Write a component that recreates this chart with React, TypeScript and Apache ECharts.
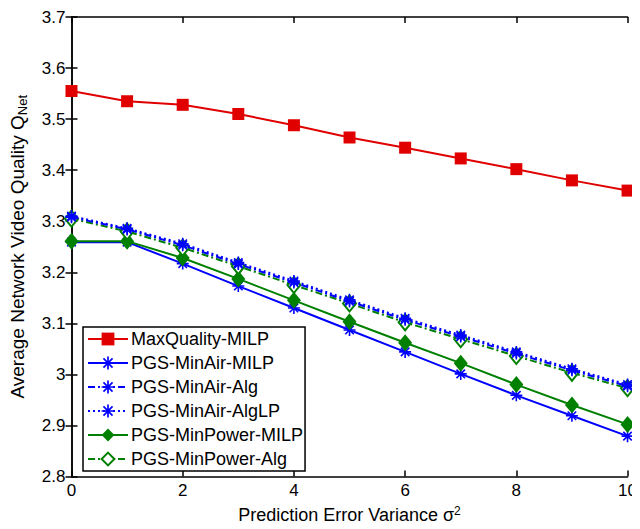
import React, { useEffect, useRef } from "react";
import * as echarts from "echarts";

const xValues = [0, 1, 2, 3, 4, 5, 6, 7, 8, 9, 10];
const maxQualityMILP = [3.555, 3.535, 3.528, 3.510, 3.488, 3.464, 3.444, 3.423, 3.402, 3.380, 3.360];
const minAirMILP = [3.259, 3.259, 3.217, 3.173, 3.130, 3.087, 3.044, 3.001, 2.959, 2.919, 2.879];
const minAirAlg = [3.308, 3.284, 3.253, 3.216, 3.180, 3.143, 3.107, 3.074, 3.041, 3.008, 2.977];
const minAirAlgLP = [3.310, 3.286, 3.256, 3.219, 3.183, 3.146, 3.110, 3.077, 3.044, 3.011, 2.980];
const minPowerMILP = [3.261, 3.261, 3.228, 3.187, 3.145, 3.103, 3.062, 3.022, 2.980, 2.940, 2.902];
const minPowerAlg = [3.305, 3.280, 3.248, 3.212, 3.175, 3.139, 3.102, 3.069, 3.036, 3.003, 2.973];

const seriesNames = [
  "MaxQuality-MILP",
  "PGS-MinAir-MILP",
  "PGS-MinAir-Alg",
  "PGS-MinAir-AlgLP",
  "PGS-MinPower-MILP",
  "PGS-MinPower-Alg",
];

const RED = "#e00000";
const BLUE = "#0000ff";
const GREEN = "#008000";

const STAR =
  "path://M-0.8,-6L0.8,-6L0.8,6L-0.8,6Z M-6,-0.8L6,-0.8L6,0.8L-6,0.8Z M-3.68,-4.81L4.81,3.68L3.68,4.81L-4.81,-3.68Z M3.68,-4.81L4.81,-3.68L-3.68,4.81L-4.81,3.68Z";

const FONT = "Liberation Sans, Arial, Helvetica, sans-serif";

function pairs(ys: number[]) {
  return xValues.map((x, i) => [x, ys[i]]);
}

export default function App() {
  const ref = useRef<HTMLDivElement>(null);
  useEffect(() => {
    if (!ref.current) return;
    const chart = echarts.init(ref.current, undefined, { renderer: "svg" });
    const axisLine = { lineStyle: { color: "#000", width: 1.5 } };
    const tickStyle = { inside: true, length: 6, lineStyle: { color: "#000", width: 1.5 } };
    chart.setOption({
      animation: false,
      backgroundColor: "#fff",
      textStyle: { fontFamily: FONT },
      grid: { left: 68, right: 9, top: 17, bottom: 46, show: false },
      legend: {
        orient: "vertical",
        left: 83,
        top: 327,
        data: seriesNames,
        backgroundColor: "#fff",
        borderColor: "#000",
        borderWidth: 1.5,
        borderRadius: 0,
        padding: [3, 2, 3, 4],
        itemWidth: 40,
        itemHeight: 16,
        itemGap: 6,
        textStyle: { fontFamily: FONT, fontSize: 18, color: "#000", padding: [0, 0, 0, -2] },
      },
      xAxis: [
        {
          type: "value",
          min: 0,
          max: 10,
          interval: 2,
          axisLine,
          axisTick: tickStyle,
          splitLine: { show: false },
          axisLabel: { color: "#000", fontSize: 17, fontFamily: FONT, margin: 5 },
          name: "{t|Prediction Error Variance σ}{s|2}",
          nameLocation: "middle",
          nameGap: 28,
          nameTextStyle: {
            rich: {
              t: { fontSize: 18, fontFamily: FONT, color: "#000" },
              s: { fontSize: 12, fontFamily: FONT, color: "#000", verticalAlign: "top", padding: [0, 0, 9, 0] },
            },
          },
        },
        {
          type: "value",
          position: "top",
          min: 0,
          max: 10,
          interval: 2,
          axisLine,
          axisTick: tickStyle,
          axisLabel: { show: false },
          splitLine: { show: false },
        },
      ],
      yAxis: [
        {
          type: "value",
          min: 2.8,
          max: 3.7,
          interval: 0.1,
          axisLine,
          axisTick: tickStyle,
          splitLine: { show: false },
          axisLabel: {
            color: "#000",
            fontSize: 17,
            fontFamily: FONT,
            margin: 6,
            formatter: (v: number) => String(parseFloat(v.toFixed(1))),
          },
          name: "{t|Average Network Video Quality Q}{s|Net}",
          nameLocation: "middle",
          nameRotate: 90,
          nameGap: 43,
          nameTextStyle: {
            rich: {
              t: { fontSize: 19, fontFamily: FONT, color: "#000" },
              s: { fontSize: 13, fontFamily: FONT, color: "#000", padding: [9, 0, 0, 0] },
            },
          },
        },
        {
          type: "value",
          position: "right",
          min: 2.8,
          max: 3.7,
          interval: 0.1,
          axisLine,
          axisTick: tickStyle,
          axisLabel: { show: false },
          splitLine: { show: false },
        },
      ],
      series: [
        {
          name: seriesNames[0],
          type: "line",
          data: pairs(maxQualityMILP),
          symbol: "rect",
          symbolSize: 12,
          color: RED,
          lineStyle: { color: RED, width: 2 },
          itemStyle: { color: RED },
          z: 6,
        },
        {
          name: seriesNames[1],
          type: "line",
          data: pairs(minAirMILP),
          symbol: STAR,
          symbolSize: 12,
          color: BLUE,
          lineStyle: { color: BLUE, width: 2 },
          itemStyle: { color: BLUE },
          z: 3,
        },
        {
          name: seriesNames[2],
          type: "line",
          data: pairs(minAirAlg),
          symbol: STAR,
          symbolSize: 12,
          color: BLUE,
          lineStyle: { color: BLUE, width: 2, type: [7, 3, 2, 3] },
          itemStyle: { color: BLUE },
          z: 5,
        },
        {
          name: seriesNames[3],
          type: "line",
          data: pairs(minAirAlgLP),
          symbol: STAR,
          symbolSize: 12,
          color: BLUE,
          lineStyle: { color: BLUE, width: 2, type: [2, 3] },
          itemStyle: { color: BLUE },
          z: 5,
        },
        {
          name: seriesNames[4],
          type: "line",
          data: pairs(minPowerMILP),
          symbol: "diamond",
          symbolSize: [14, 17],
          color: GREEN,
          lineStyle: { color: GREEN, width: 2 },
          itemStyle: { color: GREEN },
          z: 4,
        },
        {
          name: seriesNames[5],
          type: "line",
          data: pairs(minPowerAlg),
          symbol: "diamond",
          symbolSize: [13, 16],
          color: GREEN,
          lineStyle: { color: GREEN, width: 2, type: [7, 3, 2, 3] },
          itemStyle: { color: "#fff", borderColor: GREEN, borderWidth: 2 },
          z: 4,
        },
      ],
    });
    return () => chart.dispose();
  }, []);
  return <div ref={ref} style={{ width: 640, height: 529, margin: -8 }} />;
}
